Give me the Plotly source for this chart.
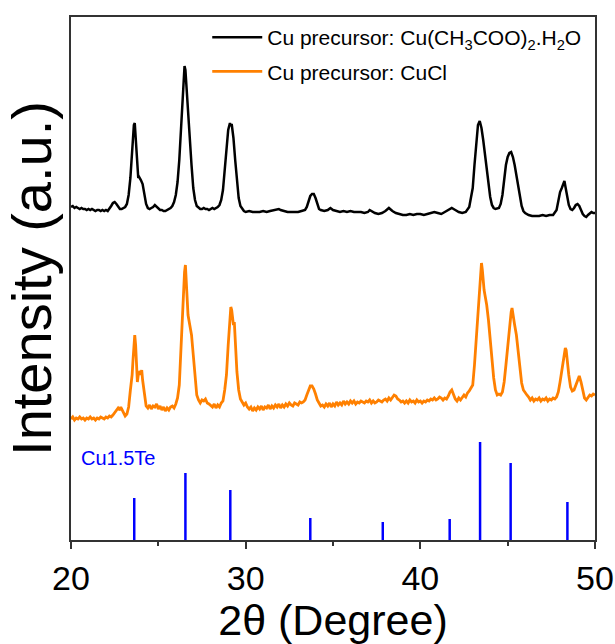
import plotly.graph_objects as go

# ---- data (intensities in arbitrary units) ----
black_x = [20.0,20.1,20.2,20.3,20.4,20.5,20.6,20.7,20.8,20.9,21.0,21.1,21.2,21.3,21.4,21.5,21.6,21.7,21.8,21.9,
           22.0,22.1,22.2,22.3,22.4,22.5,22.6,22.7,22.8,22.9,23.0,23.1,23.2,23.3,23.4,23.5,23.6,23.65,23.7,23.75,
           23.8,23.85,23.9,23.95,24.0,24.1,24.2,24.3,24.4,24.5,24.6,24.7,24.8,24.9,25.0,25.1,25.2,25.3,25.4,25.5,
           25.6,25.7,25.8,25.9,26.0,26.1,26.2,26.3,26.4,26.5,26.55,26.6,26.7,26.8,26.9,27.0,27.1,27.2,27.3,27.4,
           27.5,27.6,27.7,27.8,27.9,28.0,28.1,28.2,28.3,28.4,28.5,28.6,28.7,28.8,28.9,29.0,29.1,29.15,29.2,29.3,
           29.4,29.5,29.6,29.7,29.8,29.9,30.0,30.2,30.4,30.6,30.8,31.0,31.2,31.4,31.6,31.8,31.9,32.0,32.2,32.4,
           32.6,32.8,33.0,33.2,33.4,33.5,33.6,33.7,33.8,33.9,34.0,34.1,34.2,34.3,34.5,34.7,34.85,35.0,35.2,35.4,
           35.6,35.8,36.0,36.2,36.4,36.6,36.8,37.0,37.1,37.2,37.4,37.6,37.8,38.0,38.2,38.4,38.6,38.8,39.0,39.2,
           39.4,39.6,39.8,40.0,40.2,40.4,40.6,40.8,41.0,41.2,41.4,41.6,41.8,42.0,42.2,42.4,42.6,42.8,43.0,43.1,
           43.2,43.3,43.4,43.5,43.6,43.7,43.8,43.9,44.0,44.1,44.2,44.3,44.5,44.6,44.7,44.8,44.9,45.0,45.1,45.2,
           45.3,45.4,45.5,45.6,45.7,45.8,45.9,46.0,46.2,46.4,46.6,46.8,47.0,47.2,47.4,47.6,47.8,47.9,48.0,48.1,
           48.2,48.25,48.3,48.4,48.5,48.6,48.7,48.8,48.9,49.0,49.1,49.2,49.3,49.4,49.5,49.6,49.7,49.8,49.9,50.0]
black_y = [333,334,332,333,332,331,332,331,331,330,331,330,331,330,329,330,330,329,330,329,
           330,329,331,334,337,338,336,333,331,331,332,333,336,345,362,395,415,417,402,380,
           368,362,363,362,360,356,345,336,332,331,332,333,335,333,331,330,330,329,329,330,
           331,332,334,338,345,358,380,410,450,474,470,455,425,400,375,352,340,334,332,331,
           331,332,331,331,330,331,332,331,332,333,335,340,350,370,395,410,417,414,416,402,
           380,358,342,334,331,329,328,329,328,328,328,329,328,329,330,331,331,330,329,328,
           328,328,328,329,330,333,338,344,346,346,342,335,331,330,329,330,332,330,329,328,
           329,328,329,328,328,328,327,328,330,329,327,326,327,329,332,329,327,326,325,325,
           326,325,326,326,325,326,327,328,327,326,328,330,332,330,328,327,328,333,352,375,
           400,415,419,412,400,385,370,355,343,335,332,331,332,336,345,360,375,383,387,388,
           383,375,365,354,343,334,329,327,325,324,324,324,325,324,325,325,330,338,348,352,
           358,359,354,345,335,331,330,332,335,336,334,330,326,324,323,325,327,328,327,327]

orange_x = [20.0,20.1,20.2,20.3,20.4,20.5,20.6,20.7,20.8,20.9,21.0,21.1,21.2,21.3,21.4,21.5,21.6,21.7,21.8,21.9,
            22.0,22.1,22.2,22.3,22.4,22.5,22.6,22.7,22.8,22.85,22.9,23.0,23.1,23.2,23.3,23.4,23.5,23.55,23.6,23.65,
            23.7,23.75,23.8,23.85,23.9,23.95,24.0,24.05,24.1,24.2,24.3,24.4,24.5,24.6,24.7,24.8,24.9,25.0,25.1,25.2,
            25.3,25.4,25.5,25.6,25.7,25.8,25.9,26.0,26.1,26.2,26.3,26.4,26.45,26.5,26.55,26.6,26.65,26.7,26.8,26.9,
            27.0,27.1,27.2,27.3,27.4,27.5,27.6,27.7,27.8,27.9,28.0,28.1,28.2,28.3,28.4,28.5,28.6,28.7,28.8,28.9,
            29.0,29.1,29.15,29.2,29.3,29.35,29.4,29.5,29.6,29.7,29.8,29.9,30.0,30.1,30.2,30.3,30.4,30.5,30.6,30.7,
            30.8,30.9,31.0,31.1,31.2,31.3,31.4,31.5,31.6,31.7,31.8,31.9,32.0,32.1,32.2,32.3,32.4,32.5,32.6,32.7,
            32.8,32.9,33.0,33.1,33.2,33.3,33.4,33.5,33.6,33.7,33.8,33.9,34.0,34.1,34.2,34.3,34.4,34.5,34.6,34.7,
            34.8,34.9,35.0,35.1,35.2,35.3,35.4,35.5,35.6,35.7,35.8,35.9,36.0,36.1,36.2,36.3,36.4,36.5,36.6,36.7,
            36.8,36.9,37.0,37.1,37.2,37.3,37.4,37.5,37.6,37.7,37.8,37.9,38.0,38.1,38.2,38.3,38.4,38.5,38.6,38.7,
            38.8,38.9,39.0,39.1,39.2,39.3,39.4,39.5,39.6,39.7,39.8,39.9,40.0,40.1,40.2,40.3,40.4,40.5,40.6,40.7,
            40.8,40.9,41.0,41.1,41.2,41.3,41.4,41.5,41.6,41.7,41.8,41.9,42.0,42.1,42.2,42.3,42.4,42.5,42.6,42.7,
            42.8,42.9,43.0,43.1,43.2,43.3,43.4,43.45,43.5,43.55,43.6,43.65,43.7,43.8,43.9,44.0,44.1,44.2,44.3,44.4,
            44.5,44.6,44.7,44.8,44.9,45.0,45.1,45.2,45.25,45.3,45.4,45.5,45.6,45.7,45.8,45.9,46.0,46.1,46.2,46.3,
            46.4,46.5,46.6,46.7,46.8,46.9,47.0,47.1,47.2,47.3,47.4,47.5,47.6,47.7,47.8,47.9,48.0,48.1,48.2,48.3,
            48.35,48.4,48.5,48.6,48.7,48.8,48.9,49.0,49.1,49.2,49.3,49.4,49.5,49.6,49.7,49.8,49.9,50.0]
orange_y = [121,123,120,122,121,123,121,122,120,122,121,123,121,122,120,122,121,123,122,121,
            123,122,124,123,125,127,129,132,130,133,131,127,124,126,133,150,165,180,200,205,
            195,175,158,165,168,169,165,170,160,145,134,132,135,131,134,133,136,131,134,130,
            133,129,132,130,133,134,132,136,142,155,195,230,255,268,275,262,240,225,215,205,
            185,160,145,140,137,140,139,141,137,136,134,133,136,132,135,133,137,139,150,165,
            195,225,233,230,215,218,195,168,150,141,138,135,137,133,131,133,129,132,130,133,
            131,134,130,133,132,135,131,134,132,135,133,136,132,135,133,136,134,137,135,134,
            137,136,135,138,137,138,140,145,150,154,154,151,146,140,137,134,135,133,136,134,
            137,133,136,134,138,135,137,135,139,136,138,136,139,137,139,136,138,137,139,138,
            137,139,138,140,137,139,137,138,140,139,138,140,141,139,142,140,143,145,144,141,
            140,138,139,137,139,137,140,138,139,137,140,138,139,137,139,138,140,139,141,140,
            142,140,141,143,142,140,142,141,144,148,150,146,141,139,142,140,143,145,143,147,
            149,152,155,175,200,230,260,268,277,270,255,250,245,235,220,200,180,162,150,145,
            146,145,148,158,175,195,215,228,232,225,215,205,188,170,157,150,147,145,143,140,
            142,139,141,140,142,139,141,140,142,139,141,140,142,141,143,148,158,170,185,192,
            190,180,165,153,149,150,155,160,164,158,148,142,140,143,145,144,146,145]

ref_pos = [23.62, 26.55, 29.12, 33.7, 37.85, 41.68, 43.42, 45.17, 48.42]
ref_height = [42, 67, 50, 22, 18, 21, 98, 77, 38]
ref_label = "Cu1.5Te"

series_names = ["Cu precursor: Cu(CH<sub>3</sub>COO)<sub>2</sub>.H<sub>2</sub>O",
                "Cu precursor: CuCl"]
x_ticks = [20, 30, 40, 50]

FONT = "Liberation Sans, Arial, sans-serif"

# stick pattern built from the arrays
stick_x, stick_y = [], []
for p, h in zip(ref_pos, ref_height):
    stick_x += [p, p, None]
    stick_y += [0, h, None]

fig = go.Figure()
fig.add_trace(go.Scatter(x=black_x, y=black_y, mode="lines", name=series_names[0],
                         line=dict(color="#000000", width=2.5), legendgroup="a"))
fig.add_trace(go.Scatter(x=orange_x, y=orange_y, mode="lines", name=series_names[1],
                         line=dict(color="#FF8000", width=2.8), legendgroup="b"))
fig.add_trace(go.Scatter(x=stick_x, y=stick_y, mode="lines", showlegend=False,
                         line=dict(color="#0000FF", width=2.5)))

fig.add_annotation(x=20.45, y=82, xref="x", yref="y", text=ref_label, showarrow=False,
                   xanchor="left", yanchor="middle",
                   font=dict(family=FONT, size=20, color="#0000FF"))

fig.update_layout(
    width=615, height=644,
    margin=dict(l=71, r=20, t=17, b=104, autoexpand=False),
    plot_bgcolor="white", paper_bgcolor="white",
    font=dict(family=FONT, color="#000000"),
    showlegend=True,
    legend=dict(x=0.26, y=1.0, xanchor="left", yanchor="top",
                bgcolor="rgba(0,0,0,0)", font=dict(family=FONT, size=21),
                tracegroupgap=4, itemwidth=50),
    xaxis=dict(range=[20, 50], tickvals=x_ticks, ticks="outside", ticklen=7, tickwidth=1.5,
               tickcolor="#333333", showline=True, linecolor="#333333", linewidth=1.5,
               mirror=True, showgrid=False, zeroline=False, automargin=False,
               tickfont=dict(family=FONT, size=34),
               minor=dict(ticks="outside", dtick=5, ticklen=4, tickwidth=1.5, tickcolor="#333333", showgrid=False),
               title=dict(text="2θ (Degree)", font=dict(family=FONT, size=43), standoff=8)),
    yaxis=dict(range=[0, 523], showticklabels=False, ticks="", showline=True,
               linecolor="#333333", linewidth=1.5, mirror=True, showgrid=False, zeroline=False,
               automargin=False,
               title=dict(text="Intensity (a.u.)", font=dict(family=FONT, size=56), standoff=4)),
)

fig.write_html("out.html")
